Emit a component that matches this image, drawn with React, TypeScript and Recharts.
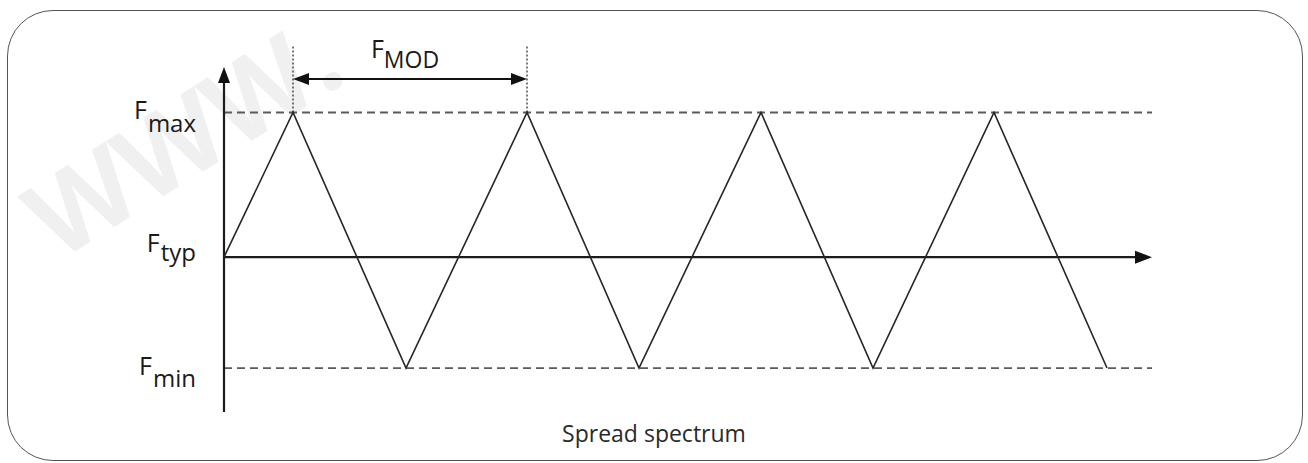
import React from 'react';
import { ComposedChart, Line, XAxis, YAxis, ReferenceLine } from 'recharts';

// ---- data ----
const FMAX = 1;
const FMIN = 0;
const FTYP = 0.434;
const times = [0, 69, 182, 303, 415, 537, 649, 770, 883];
const freq = [FTYP, FMAX, FMIN, FMAX, FMIN, FMAX, FMIN, FMAX, FMIN];
const levelValues = [FMAX, FTYP, FMIN];
const levelMain = ['F', 'F', 'F'];
const levelSub = ['max', 'typ', 'min'];
const modLabelMain = 'F';
const modLabelSub = 'MOD';
const xTitle = 'Spread spectrum';
const watermark = 'WWW.';

const FMOD_LEVEL = 1.131;
const DOT_TOP = 1.26;
const X_DOMAIN: [number, number] = [0, 928];
const Y_DOMAIN: [number, number] = [-0.172, 1.178];

const data = times.map((t, i) => ({ t, f: freq[i] }));

const CHART_W = 1308;
const CHART_H = 463;
const FONT = '"Open Sans", "Noto Sans", sans-serif';
const INK = '#1a1a1a';

// label baseline offsets (F baseline, subscript shift) per level
const labelOffsets: Record<string, [number, number]> = {
  max: [6.5, 13],
  typ: [-5, 9],
  min: [7, 12],
};

const LevelTick = (props: any) => {
  const { x, y, payload } = props;
  const idx = levelValues.findIndex((v) => Math.abs(v - payload.value) < 1e-6);
  if (idx < 0) return null;
  const sub = levelSub[idx];
  const [dy0, dy1] = labelOffsets[sub];
  return (
    <text x={x} y={y + dy0} textAnchor="end" fontFamily={FONT} fontSize={24} fill={INK}>
      <tspan fontSize={25}>{levelMain[idx]}</tspan>
      <tspan dy={dy1} dx={1}>{sub}</tspan>
    </text>
  );
};

const ArrowRight = (props: any) => {
  const { x1, x2, y1 } = props;
  const xs = Math.max(x1, x2);
  const xl = Math.min(x1, x2);
  return (
    <g>
      <line x1={xl} y1={y1} x2={xs - 8} y2={y1} stroke="#1c1c1c" strokeWidth={2.2} />
      <polygon points={`${xs},${y1} ${xs - 17},${y1 - 6.5} ${xs - 17},${y1 + 6.5}`} fill="#111" />
    </g>
  );
};

const ArrowUp = (props: any) => {
  const { x1, y1, y2 } = props;
  const yt = Math.min(y1, y2);
  const yb = Math.max(y1, y2);
  return (
    <g>
      <line x1={x1} y1={yb} x2={x1} y2={yt + 8} stroke="#1c1c1c" strokeWidth={2.2} />
      <polygon points={`${x1},${yt} ${x1 - 6},${yt + 16} ${x1 + 6},${yt + 16}`} fill="#111" />
    </g>
  );
};

const DoubleArrow = (props: any) => {
  const { x1, x2, y1 } = props;
  const xl = Math.min(x1, x2);
  const xr = Math.max(x1, x2);
  const mid = (xl + xr) / 2;
  return (
    <g>
      <line x1={xl + 8} y1={y1} x2={xr - 8} y2={y1} stroke="#111" strokeWidth={2.2} />
      <polygon points={`${xl},${y1} ${xl + 16},${y1 - 6} ${xl + 16},${y1 + 6}`} fill="#111" />
      <polygon points={`${xr},${y1} ${xr - 16},${y1 - 6} ${xr - 16},${y1 + 6}`} fill="#111" />
      <text x={mid - 5} y={y1 - 21} textAnchor="middle" fontFamily={FONT} fontSize={25} fill={INK}>
        <tspan>{modLabelMain}</tspan>
        <tspan dy={10} fontSize={23}>{modLabelSub}</tspan>
      </text>
    </g>
  );
};

const TitleLabel = (props: any) => {
  const vb = props.viewBox || { y: 412, height: 40 };
  return (
    <text x={CHART_W / 2} y={vb.y + 30} textAnchor="middle" fontFamily={FONT} fontSize={23} fill="#2a2a2a">
      {xTitle}
    </text>
  );
};

export default function App() {
  return (
    <div style={{ position: 'absolute', left: 0, top: 0, width: CHART_W, height: CHART_H, background: '#fff', overflow: 'hidden' }}>
      <svg width={CHART_W} height={CHART_H} style={{ position: 'absolute', left: 0, top: 0 }}>
        <text
          x={58}
          y={262}
          transform="rotate(-32 58 262)"
          fontFamily={FONT}
          fontWeight={700}
          fontSize={108}
          fill="#f0f0f0"
        >
          {watermark}
        </text>
      </svg>
      <div
        style={{
          position: 'absolute',
          left: 7,
          top: 10,
          width: 1296,
          height: 451,
          boxSizing: 'border-box',
          border: '1.6px solid #555',
          borderRadius: 46,
        }}
      />
      <div style={{ position: 'absolute', left: 0, top: 0 }}>
        <ComposedChart
          width={CHART_W}
          height={CHART_H}
          data={data}
          margin={{ top: 67, right: 156, bottom: 11, left: 164 }}
        >
          <XAxis
            dataKey="t"
            type="number"
            domain={X_DOMAIN}
            axisLine={false}
            tickLine={false}
            tick={false}
            height={40}
            label={<TitleLabel />}
          />
          <YAxis
            type="number"
            domain={Y_DOMAIN}
            ticks={levelValues}
            interval={0}
            axisLine={false}
            tickLine={false}
            tickSize={0}
            tickMargin={28}
            width={60}
            tick={<LevelTick />}
          />
          <ReferenceLine y={FMAX} stroke="#5a5a5a" strokeWidth={1.8} strokeDasharray="8 5" />
          <ReferenceLine y={FMIN} stroke="#5a5a5a" strokeWidth={1.8} strokeDasharray="8 5" />
          <ReferenceLine
            segment={[{ x: times[1], y: FMAX }, { x: times[1], y: DOT_TOP }]}
            stroke="#333"
            strokeWidth={1.3}
            strokeDasharray="2 2"
            ifOverflow="visible"
          />
          <ReferenceLine
            segment={[{ x: times[3], y: FMAX }, { x: times[3], y: DOT_TOP }]}
            stroke="#333"
            strokeWidth={1.3}
            strokeDasharray="2 2"
            ifOverflow="visible"
          />
          <ReferenceLine
            segment={[{ x: times[1], y: FMOD_LEVEL }, { x: times[3], y: FMOD_LEVEL }]}
            shape={DoubleArrow}
            ifOverflow="visible"
          />
          <ReferenceLine y={FTYP} shape={ArrowRight} ifOverflow="visible" />
          <ReferenceLine x={X_DOMAIN[0]} shape={ArrowUp} ifOverflow="visible" />
          <Line
            dataKey="f"
            type="linear"
            dot={false}
            activeDot={false}
            stroke="#262626"
            strokeWidth={1.6}
            isAnimationActive={false}
          />
        </ComposedChart>
      </div>
    </div>
  );
}
